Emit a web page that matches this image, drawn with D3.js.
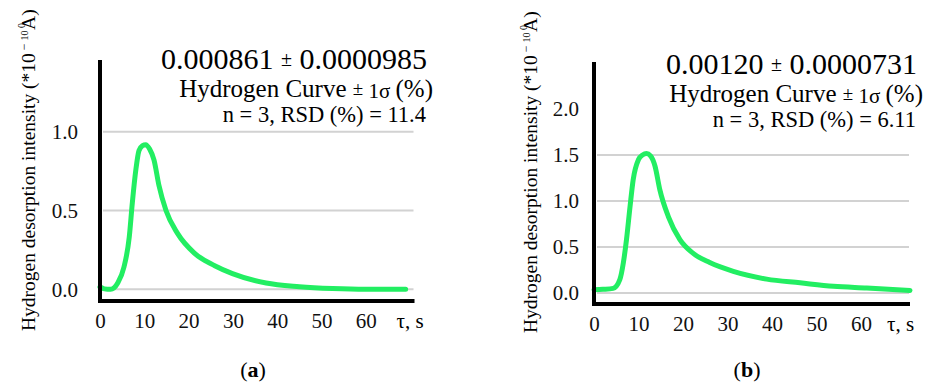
<!DOCTYPE html>
<html>
<head>
<meta charset="utf-8">
<script src="https://cdn.jsdelivr.net/npm/d3@7"></script>
<style>
	body { margin: 0; background: #fff; }
	svg { display: block; font-family: "Liberation Serif", "DejaVu Serif", serif; }
	.tick text { fill: #111; }
</style>
</head>
<body>
<div id="chart"></div>
<script>
// hydrogen desorption curves
var timeA   = [0, 1, 2.4, 4, 5.4, 6.6, 7.3, 8.1, 8.8, 9.6, 10.3, 11.2, 12.2, 13.3, 14.9, 17.5, 21.3, 25.9, 29.9, 37.5, 45, 52.5, 60, 69];
var signalA = [0.015, 0.003, 0.0, 0.04, 0.14, 0.33, 0.55, 0.76, 0.88, 0.912, 0.918, 0.89, 0.82, 0.66, 0.50, 0.355, 0.23, 0.15, 0.10, 0.04, 0.017, 0.005, 0.0, 0.0];

var timeB   = [0, 2, 4.3, 5.8, 6.6, 7.3, 8.1, 8.8, 10, 10.9, 11.8, 12.7, 13.7, 14.8, 16.7, 19.3, 22.3, 26, 31.3, 38.8, 46.3, 53.8, 61.3, 71];
var signalB = [0.035, 0.04, 0.05, 0.145, 0.33, 0.58, 0.94, 1.23, 1.45, 1.50, 1.515, 1.49, 1.38, 1.12, 0.83, 0.58, 0.43, 0.33, 0.235, 0.15, 0.11, 0.072, 0.054, 0.028];

var xTicks  = [0, 10, 20, 30, 40, 50, 60];
var yTicksA = [0, 0.5, 1.0];
var gridA   = [0, 0.5, 1.0];
var yTicksB = [0, 0.5, 1.0, 1.5, 2.0];
var gridB   = [0, 0.5, 1.0, 1.5];

var meanLabels = ["0.000861", "0.00120"];
var sdLabels   = ["0.0000985", "0.0000731"];
var rsdLabels  = ["11.4", "6.11"];
var nRuns      = 3;
var captions   = ["a", "b"];

var FMT1 = d3.format(".1f");
var GREEN = "#22ee62";
var SERIF = "Liberation Serif, DejaVu Serif, serif";

var svg = d3.select("#chart")
	.append("svg")
	.attr("width", 931)
	.attr("height", 388)
	.attr("font-family", SERIF);

function makePanel(p) {
	var x = d3.scaleLinear().domain([0, 71]).range([p.left, p.right]);
	var y = d3.scaleLinear().domain(p.yDomain).range([p.bottom, p.top]);

	var g = svg.append("g");

	// light gridlines
	g.selectAll(".grid")
		.data(p.grid)
		.enter()
		.append("line")
		.attr("x1", p.left + 3)
		.attr("x2", p.right - 1)
		.attr("y1", function(d) { return y(d); })
		.attr("y2", function(d) { return y(d); })
		.style("stroke", "#d2d2d2")
		.style("stroke-width", 2);

	// y tick labels
	var yAxis = g.append("g")
		.attr("transform", "translate(" + p.left + ",0)")
		.call(d3.axisLeft(y).tickValues(p.yTicks).tickSize(0).tickPadding(p.yPad).tickFormat(FMT1));
	yAxis.select(".domain").remove();
	yAxis.attr("font-family", SERIF).attr("font-size", 21);

	// x tick labels
	var xAxis = g.append("g")
		.attr("transform", "translate(0," + p.bottom + ")")
		.call(d3.axisBottom(x).tickValues(xTicks).tickSize(0).tickPadding(12).tickFormat(d3.format("d")));
	xAxis.select(".domain").remove();
	xAxis.attr("font-family", SERIF).attr("font-size", 21);

	g.append("text")
		.attr("x", x(70) - p.unitShift)
		.attr("y", p.bottom + 27)
		.attr("text-anchor", "middle")
		.style("font-size", "21px")
		.text("τ, s");

	// curve
	var line = d3.line()
		.x(function(d) { return x(d[0]); })
		.y(function(d) { return y(d[1]); })
		.curve(d3.curveMonotoneX);

	g.append("path")
		.datum(d3.zip(p.time, p.signal))
		.attr("d", line)
		.style("fill", "none")
		.style("stroke", GREEN)
		.style("stroke-width", 5)
		.style("stroke-linecap", "round")
		.style("stroke-linejoin", "round");

	// heavy black axes
	g.append("line")
		.attr("x1", p.left).attr("x2", p.left)
		.attr("y1", p.top).attr("y2", p.bottom + 2)
		.style("stroke", "#000").style("stroke-width", 4);
	g.append("line")
		.attr("x1", p.left - 2).attr("x2", p.right)
		.attr("y1", p.bottom).attr("y2", p.bottom)
		.style("stroke", "#000").style("stroke-width", 4);

	// y axis title
	var title = g.append("text")
		.attr("transform", "translate(" + p.titleX + "," + p.titleY + ") rotate(-90)")
		.style("font-size", "19.5px");
	title.append("tspan").text("Hydrogen desorption intensity (*10");
	title.append("tspan").attr("dy", -7).style("font-size", "12px").text(" − ");
	title.append("tspan").style("font-size", "10px").text("10 ");
	title.append("tspan").attr("dy", -3).style("font-size", "10px").text("0");
	title.append("tspan").attr("dy", 10).attr("dx", -7).text("A)");

	// mean +- sd, legend and rsd lines
	var t1 = g.append("text")
		.attr("x", p.textRight)
		.attr("y", p.textBase)
		.attr("text-anchor", "end")
		.style("font-size", "30px");
	t1.append("tspan").text(meanLabels[p.i] + " ");
	t1.append("tspan").style("font-size", "20px").attr("dy", -3).text("±");
	t1.append("tspan").attr("dy", 3).text(" " + sdLabels[p.i]);

	var t2 = g.append("text")
		.attr("x", p.textRight + 6)
		.attr("y", p.textBase + 28)
		.attr("text-anchor", "end")
		.style("font-size", "25px");
	t2.append("tspan").text("Hydrogen Curve ");
	t2.append("tspan").style("font-size", "19px").attr("dy", -2).text("±");
	t2.append("tspan").style("font-size", "21px").attr("dy", 3).text(" 1σ ");
	t2.append("tspan").attr("dy", -1).text("(%)");

	g.append("text")
		.attr("x", p.textRight - 1)
		.attr("y", p.textBase + 53)
		.attr("text-anchor", "end")
		.style("font-size", "22.5px")
		.text("n = " + nRuns + ", RSD (%) = " + rsdLabels[p.i]);

	// panel caption
	var cap = g.append("text")
		.attr("x", p.capX)
		.attr("y", 377)
		.attr("text-anchor", "middle")
		.style("font-size", "22px");
	cap.append("tspan").text("(");
	cap.append("tspan").style("font-weight", "bold").text(captions[p.i]);
	cap.append("tspan").text(")");
}

makePanel({i: 0, left: 100, right: 414.5, top: 60, bottom: 301, yDomain: [-0.074, 1.455],
	yTicks: yTicksA, grid: gridA, yPad: 22, time: timeA, signal: signalA, unitShift: 0,
	titleX: 35, titleY: 331, textRight: 427, textBase: 69, capX: 253});

makePanel({i: 1, left: 594, right: 910, top: 62, bottom: 304, yDomain: [-0.12, 2.51],
	yTicks: yTicksB, grid: gridB, yPad: 15, time: timeB, signal: signalB, unitShift: 5,
	titleX: 537, titleY: 333, textRight: 917, textBase: 74, capX: 747});
</script>
</body>
</html>
